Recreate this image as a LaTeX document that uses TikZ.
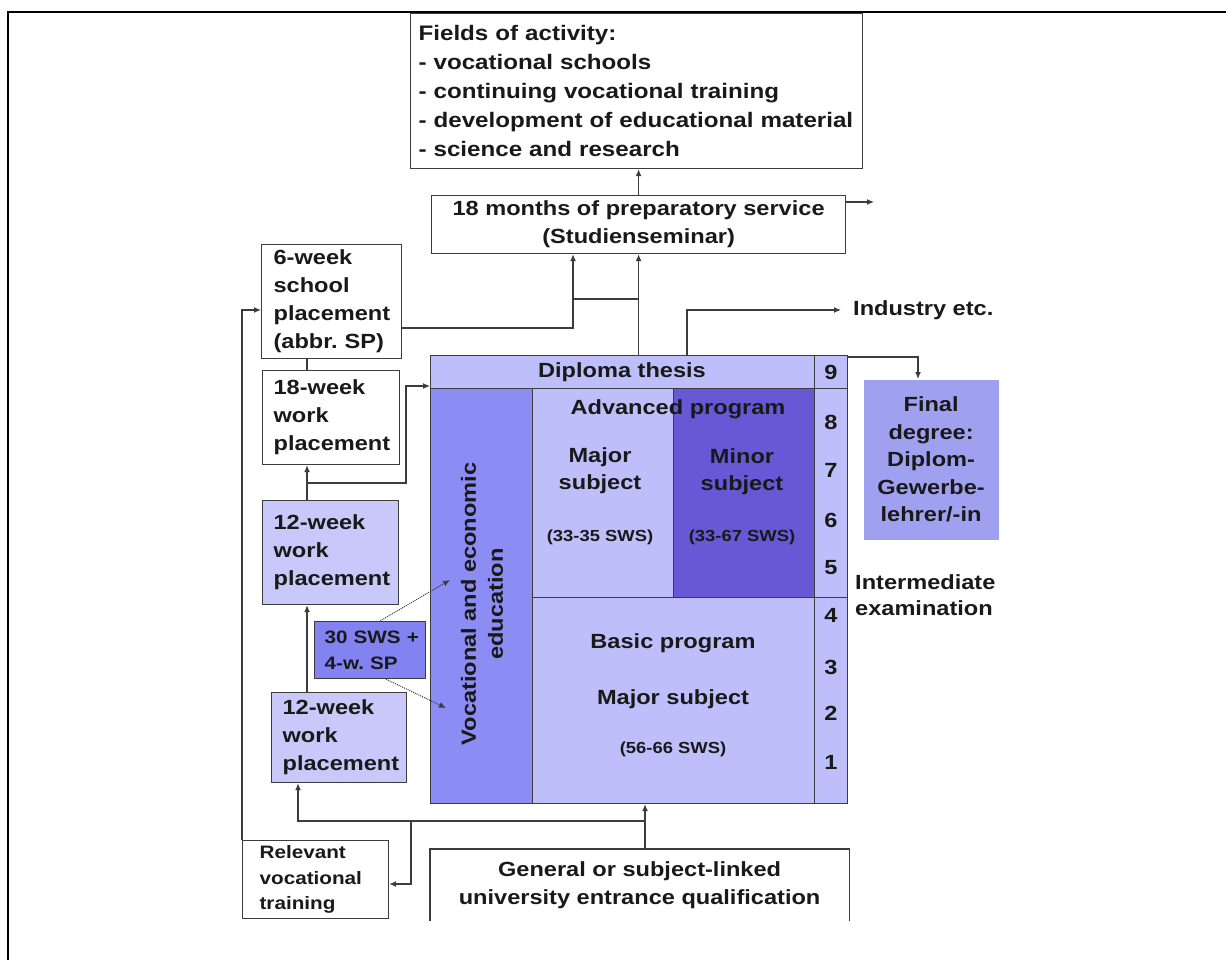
\documentclass[tikz,border=0pt]{standalone}
\usepackage{fontspec}
\setmainfont{Liberation Sans}[FakeStretch=1.15]
\usetikzlibrary{arrows.meta}
\definecolor{linec}{RGB}{60,60,60}
\definecolor{txt}{RGB}{25,25,25}
\definecolor{lightv}{RGB}{190,190,250}
\definecolor{paleb}{RGB}{200,200,250}
\definecolor{vocc}{RGB}{140,140,245}
\definecolor{swsc}{RGB}{130,130,240}
\definecolor{minc}{RGB}{104,88,214}
\definecolor{finc}{RGB}{160,160,240}
\newcommand\mfont{\bfseries\fontsize{20.5}{28}\selectfont}
\newcommand\sfnt{\bfseries\fontsize{18}{25.5}\selectfont}
\newcommand\tfnt{\bfseries\fontsize{16}{20}\selectfont}
\frenchspacing
\begin{document}
\begin{tikzpicture}[x=1pt,y=-1pt,
  box/.style={draw=linec, line width=1.2pt, inner ysep=0pt, anchor=north west, text=txt, font=\mfont},
  blk/.style={draw=linec, line width=1.2pt, inner sep=0pt, anchor=north west},
  lbl/.style={text=txt, font=\mfont, inner sep=0pt, align=center},
  arr/.style={draw=linec, line width=1.2pt, -{Latex[length=7pt,width=6pt]}},
  ln/.style={draw=linec, line width=1.2pt},
  dotarr/.style={draw=linec, line width=1pt, densely dotted, -{Latex[length=7pt,width=6pt]}}]
\useasboundingbox (0,0) rectangle (1226,960);
% frame
\draw[line width=2.6pt] (8,960) -- (8,12) -- (1226,12);

% top boxes
\node[box, minimum width=452pt, minimum height=155pt, text width=436pt, inner xsep=8pt, align=left, font=\bfseries\fontsize{21}{29}\selectfont]
  (fields) at (410,13) {Fields of activity:\\- vocational schools\\- continuing vocational training\\- development of educational material\\- science and research};
\node[box, minimum width=414pt, minimum height=58pt, inner xsep=0pt, align=center] (prep) at (431,195)
  {18 months of preparatory service\\(Studienseminar)};

% left boxes
\node[box, minimum width=140pt, minimum height=114pt, text width=116pt, inner xsep=12pt, align=left] (sp6) at (261,244)
  {6-week\\school\\placement\\(abbr. SP)};
\node[box, minimum width=137pt, minimum height=94pt, text width=115pt, inner xsep=11pt, align=left] (w18) at (262,370)
  {18-week\\work\\placement};
\node[box, fill=paleb, minimum width=136pt, minimum height=104pt, text width=114pt, inner xsep=11pt, align=left] (w12a) at (262,500)
  {12-week\\work\\placement};
\node[box, fill=swsc, minimum width=111pt, minimum height=57pt, text width=101pt, inner xsep=5pt, align=left, font=\sfnt] (sws) at (314,621)
  {\hspace*{5pt}30 SWS +\\\hspace*{5pt}4-w. SP};
\node[box, fill=paleb, minimum width=135pt, minimum height=90pt, text width=113pt, inner xsep=11pt, align=left] (w12b) at (271,692)
  {12-week\\work\\placement};
\node[box, minimum width=146pt, minimum height=78pt, text width=112pt, inner xsep=17pt, align=left, font=\sfnt] (rel) at (242,840)
  {Relevant\\vocational\\training};

% bottom box (open at the bottom)
\node[box, draw=none, minimum width=418pt, minimum height=71pt, inner xsep=0pt, align=center] (qual) at (430,849)
  {General or subject-linked\\university entrance qualification};
\draw[ln] (qual.south west) -- (qual.north west) -- (qual.north east) -- (qual.south east);

% main block
\node[blk, fill=lightv, minimum width=384pt, minimum height=33pt] (dip) at (430,355) {};
\node[blk, fill=vocc, minimum width=102pt, minimum height=415pt] (voc) at (430,388) {};
\node[blk, fill=lightv, minimum width=141pt, minimum height=209pt] (maj) at (532,388) {};
\node[blk, fill=minc, minimum width=141pt, minimum height=209pt] (mnr) at (673,388) {};
\node[blk, fill=lightv, minimum width=282pt, minimum height=206pt] (bas) at (532,597) {};
\node[blk, fill=lightv, minimum width=33pt, minimum height=33pt] (n9) at (814,355) {};
\node[blk, fill=lightv, minimum width=33pt, minimum height=209pt] (n85) at (814,388) {};
\node[blk, fill=lightv, minimum width=33pt, minimum height=206pt] (n41) at (814,597) {};

\node[lbl] (tdip) at (622,372) {Diploma thesis};
\node[lbl] (tadv) at (678,409) {Advanced program};
\node[lbl, font=\bfseries\fontsize{20.5}{27}\selectfont] (tmaj) at (600,471) {Major\\subject};
\node[lbl, font=\tfnt] (tmajs) at (600,537) {(33-35 SWS)};
\node[lbl, font=\bfseries\fontsize{20.5}{27}\selectfont] (tmin) at (742,472) {Minor\\subject};
\node[lbl, font=\tfnt] (tmins) at (742,537) {(33-67 SWS)};
\node[lbl] (tbas) at (673,643) {Basic program};
\node[lbl] (tbmaj) at (673,699) {Major subject};
\node[lbl, font=\tfnt] (tbs) at (673,749) {(56-66 SWS)};
\node[lbl, rotate=90, font=\bfseries\fontsize{20.5}{27}\selectfont] (tvoc) at (482,604) {Vocational and economic\\education};
\foreach \n/\yy in {9/372,8/422,7/470,6/520,5/568,4/615,3/667,2/713,1/762}
  \node[lbl] (num\n) at (831,\yy) {\n};

% right side
\node[box, draw=none, fill=finc, minimum width=135pt, minimum height=160pt, inner xsep=0pt, align=center, font=\bfseries\fontsize{20.5}{27.5}\selectfont] (fin) at (863,379)
  {Final\\degree:\\Diplom-\\Gewerbe-\\lehrer/-in};
\node[lbl, anchor=west] (ind) at (853,310) {Industry etc.};
\node[lbl, anchor=north west, align=left, font=\bfseries\fontsize{20.5}{26}\selectfont] (inter) at (855,574) {Intermediate\\examination};

% coordinates
\coordinate (prepout) at (874,202);
\coordinate (a1) at (573,328);
\coordinate (a2) at (573,299);
\coordinate (b1) at (687,310);
\coordinate (c1) at (918,357);
\coordinate (d1) at (242,310);
\coordinate (e1) at (307,0);
\coordinate (f1) at (406,483);
\coordinate (f2) at (406,386);
\coordinate (g1) at (380,0);
\coordinate (g2) at (450,580);
\coordinate (g3) at (386,0);
\coordinate (g4) at (446,708);
\coordinate (h1) at (645,821);
\coordinate (h2) at (298,0);
\coordinate (h3) at (411,884);

% connectors
\draw[arr] (prep.north) -- (prep.north |- fields.south);
\draw[arr] (prep.east |- prepout) -- (prepout);
\draw[arr] (prep.south |- dip.north) -- (prep.south);
\draw[arr] (sp6.east |- a1) -- (a1) -- (a1 |- prep.south);
\draw[ln] (a2) -- (a2 -| prep.south);
\draw[arr, shorten >=12pt] (b1 |- dip.north) -- (b1) -- (ind.west);
\draw[arr] (n9.north east |- c1) -- (c1) -- (c1 |- fin.north);
\draw[arr] (rel.north west) -- (d1) -- (sp6.west |- d1);
\draw[ln] (sp6.south -| e1) -- (w18.north -| e1);
\draw[arr] (w12a.north -| e1) -- (w18.south -| e1);
\draw[arr] (e1 |- f1) -- (f1) -- (f2) -- (f2 -| voc.west);
\draw[arr] (w12b.north -| e1) -- (w12a.south -| e1);
\draw[dotarr] (sws.north -| g1) -- (g2);
\draw[dotarr] (sws.south -| g3) -- (g4);
\draw[arr] (qual.north -| h1) -- (bas.south -| h1);
\draw[arr] (h1) -- (h1 -| h2) -- (h2 |- w12b.south);
\draw[arr] (h3 |- h1) -- (h3) -- (h3 -| rel.east);
\end{tikzpicture}
\end{document}
